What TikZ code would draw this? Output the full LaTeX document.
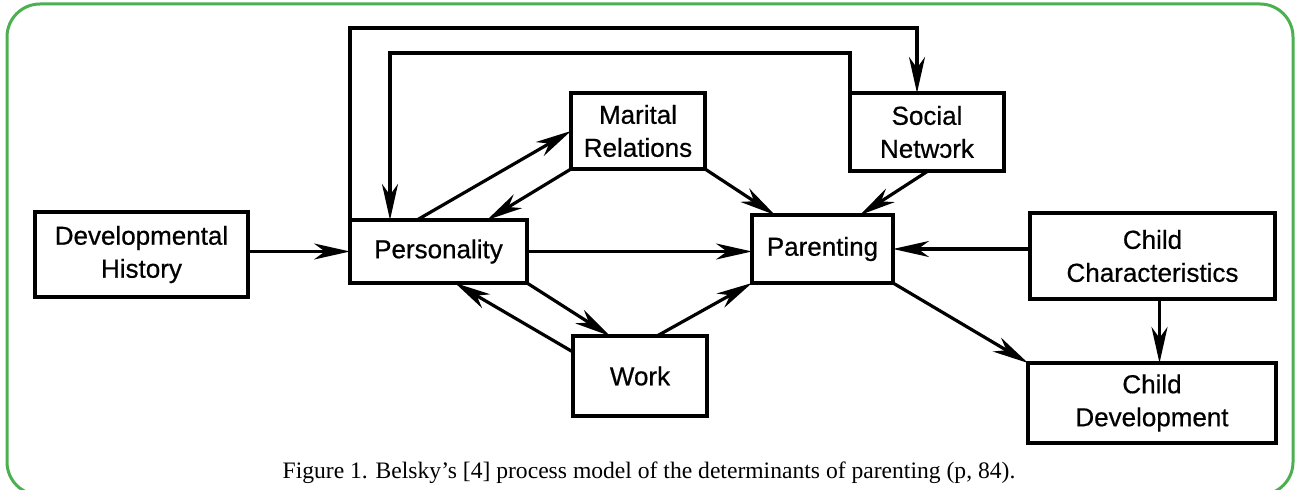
\documentclass[tikz,border=0pt]{standalone}
\usepackage{fontspec}
\setmainfont{Liberation Serif}
\setsansfont{Liberation Sans}
\newfontface\boxface{Liberation Sans}[FakeBold=0.6]
\usetikzlibrary{arrows.meta,calc}
\definecolor{framegreen}{RGB}{76,176,80}
\begin{document}
\begin{tikzpicture}[x=0.5pt,y=-0.5pt,
  box/.style={draw, line width=1.6pt, inner sep=0pt, outer sep=0pt, align=center,
    font=\boxface\fontsize{13}{16.5}\selectfont},
  arr/.style={line width=1.6pt, -{Stealth[length=18pt,width=8pt,inset=5.5pt]}},
  frame/.style={draw=framegreen, line width=1.5pt, rounded corners=16.5pt}]
\useasboundingbox (0,0) rectangle (1295,490);
\clip (0,0) rectangle (1295,490);
% page frame
\draw[frame] (7,4) rectangle (1293,495);

% boxes
\node[box, minimum width=106.5pt, minimum height=42.5pt] (DH) at (141.5,254.5) {Developmental\\History};
\node[box, minimum width=88.5pt, minimum height=31.5pt] (P) at (438.5,251.5) {Personality};
\node[box, minimum width=67pt, minimum height=38pt] (MR) at (638,131) {Marital\\Relations};
\node[box, minimum width=77pt, minimum height=39pt] (SN) at (927,132) {Social\\Netwɔrk};
\node[box, minimum width=70.5pt, minimum height=34pt] (Par) at (822.5,249) {Parenting};
\node[box, minimum width=122.5pt, minimum height=43pt] (CC) at (1152.5,256) {Child\\Characteristics};
\node[box, minimum width=67pt, minimum height=40pt] (W) at (640,376) {Work};
\node[box, minimum width=124pt, minimum height=40pt] (CD) at (1152,403) {Child\\Development};

% caption
\node[font=\fontsize{11.8}{13}\selectfont, anchor=base, inner sep=0pt] (cap) at (649,479)
  {Figure 1. Belsky’s [4] process model of the determinants of parenting (p, 84).};

% horizontal flows
\draw[arr] (DH.east |- P.west) -- (P.west);
\draw[arr] (P.east) -- (P.east -| Par.west);
\draw[arr] (CC.west |- Par.east) -- (Par.east);
\draw[arr] ($(CC.south)+(7,0)$) coordinate (ccs) -- (ccs |- CD.north);
\draw[arr] (Par.south east) -- (CD.north west);

% marital relations
\draw[arr] ($(P.north west)+(67,0)$) -- (MR.west);
\draw[arr] (MR.south west) -- ($(P.north west)+(137,0)$);
\draw[arr] (MR.south east) -- ($(Par.north west)+(23,0)$);

% social network
\draw[arr] ($(SN.south west)+(78,0)$) -- ($(Par.north west)+(108,0)$);
\draw[arr] (P.north west) -- ++(0,-192) -| ($(SN.north west)+(67,0)$);
\draw[arr] (SN.north west) -- ++(0,-40) -| ($(P.north west)+(40,0)$);

% work
\draw[arr] (P.south east) -- ($(W.north west)+(37,0)$);
\draw[arr] ($(W.north west)+(0,16)$) -- ($(P.south west)+(105,0)$);
\draw[arr] ($(W.north west)+(84,0)$) -- (Par.south west);
\end{tikzpicture}
\end{document}
